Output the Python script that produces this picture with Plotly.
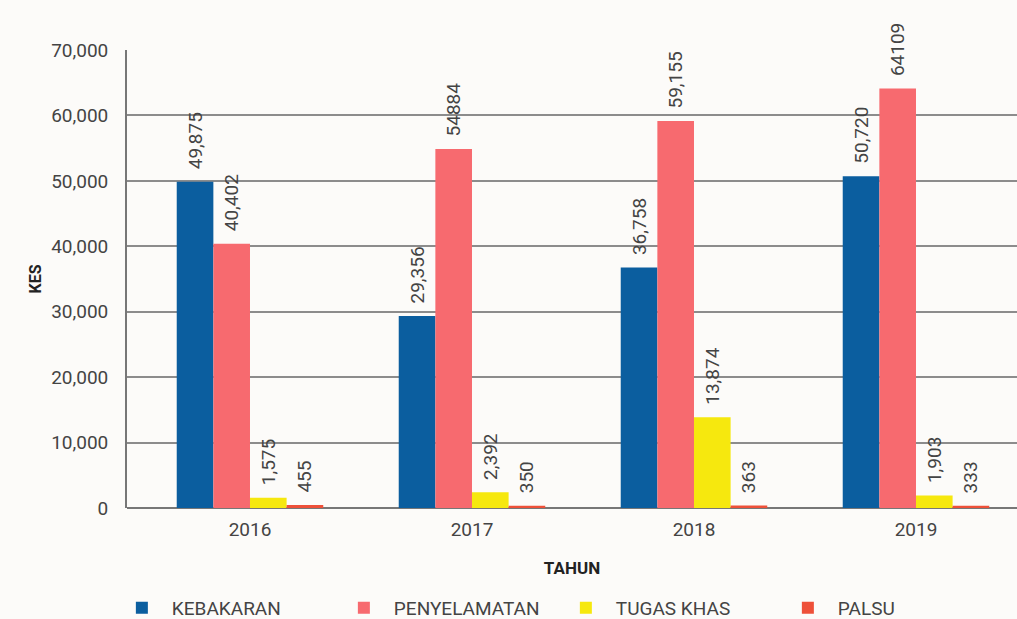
import plotly.graph_objects as go

years = ["2016", "2017", "2018", "2019"]
kebakaran = [49875, 29356, 36758, 50720]
penyelamatan = [40402, 54884, 59155, 64109]
tugas_khas = [1575, 2392, 13874, 1903]
palsu = [455, 350, 363, 333]

kebakaran_lbl = ["49,875", "29,356", "36,758", "50,720"]
penyelamatan_lbl = ["40,402", "54884", "59,155", "64109"]
tugas_khas_lbl = ["1,575", "2,392", "13,874", "1,903"]
palsu_lbl = ["455", "350", "363", "333"]

series = [
    ("KEBAKARAN", kebakaran, kebakaran_lbl, "#0B5E9F"),
    ("PENYELAMATAN", penyelamatan, penyelamatan_lbl, "#F76A6F"),
    ("TUGAS KHAS", tugas_khas, tugas_khas_lbl, "#F6E80E"),
    ("PALSU", palsu, palsu_lbl, "#EE5039"),
]

PAD = "\u00a0\u00a0"

fig = go.Figure()
for name, vals, lbls, col in series:
    fig.add_trace(go.Bar(
        x=years, y=vals, name=name, marker_color=col, marker_line_width=0,
        text=[PAD + t for t in lbls], textposition="outside", textangle=-90,
        textfont=dict(family="Roboto", size=19, color="#444444"),
        constraintext="none", cliponaxis=False,
    ))

fig.update_layout(
    width=1017, height=619,
    margin=dict(l=127, r=0, t=50, b=111, autoexpand=False),
    paper_bgcolor="#FCFBF9", plot_bgcolor="#FCFBF9",
    barmode="group", bargap=0.34, bargroupgap=0,
    font=dict(family="Roboto", size=19, color="#444444"),
    showlegend=True,
    legend=dict(orientation="h", x=-0.017, xanchor="left", y=-0.218, yanchor="middle",
                font=dict(family="Roboto", size=19, color="#444444"),
                entrywidth=157, bgcolor="rgba(0,0,0,0)", itemwidth=50),
    xaxis=dict(range=[-0.554, 3.455], showgrid=False, showline=False, ticks="",
               tickfont=dict(size=19), ticklabelstandoff=8,
               title=dict(text="<b>TAHUN</b>", standoff=22, font=dict(size=17, color="#222"))),
    yaxis=dict(range=[0, 70000], dtick=10000, tickformat=",d", showgrid=True,
               gridcolor="#8c8c8c", gridwidth=1.8, zeroline=True, zerolinecolor="#777",
               zerolinewidth=1.8, showline=True, linecolor="#777", linewidth=1.8,
               ticks="", ticklabelstandoff=13, tickfont=dict(size=19),
               title=dict(text="<b>KES</b>", standoff=6, font=dict(size=16, color="#222"))),
)

fig.write_html("out.html", config={"displayModeBar": False},
               post_script="document.body.style.margin='0';")
